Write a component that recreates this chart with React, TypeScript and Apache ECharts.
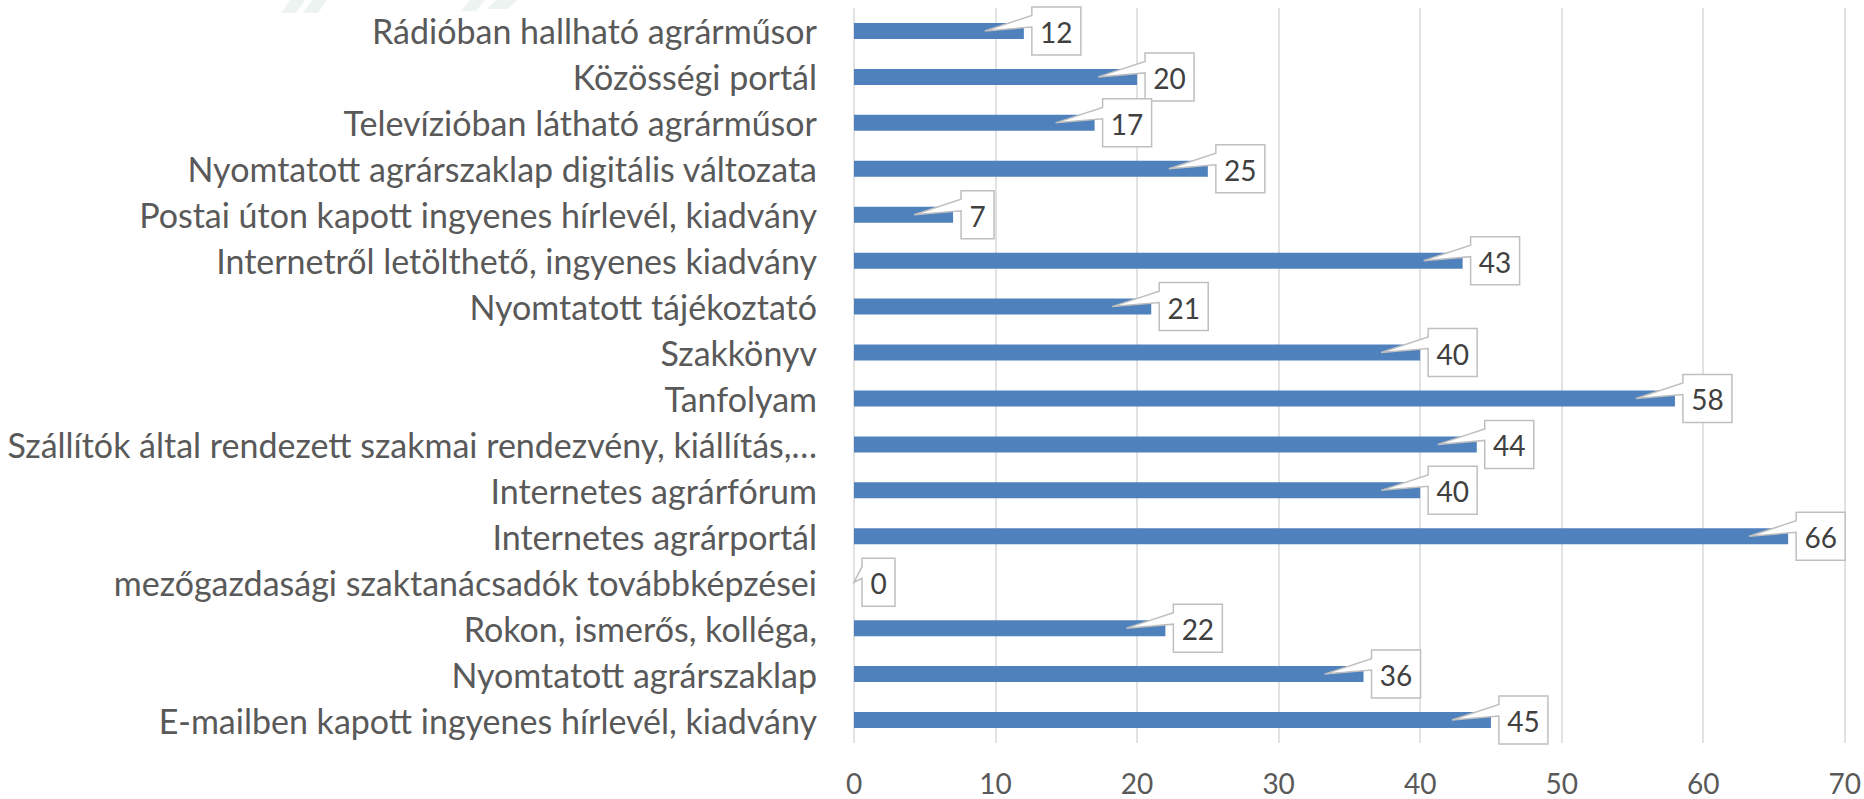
import React, { useEffect, useRef } from "react";
import * as echarts from "echarts";

const categories: string[] = [
  "Rádióban hallható agrárműsor",
  "Közösségi portál",
  "Televízióban látható agrárműsor",
  "Nyomtatott agrárszaklap digitális változata",
  "Postai úton kapott ingyenes hírlevél, kiadvány",
  "Internetről letölthető, ingyenes kiadvány",
  "Nyomtatott tájékoztató",
  "Szakkönyv",
  "Tanfolyam",
  "Szállítók által rendezett szakmai rendezvény, kiállítás,…",
  "Internetes agrárfórum",
  "Internetes agrárportál",
  "mezőgazdasági szaktanácsadók továbbképzései",
  "Rokon, ismerős, kolléga,",
  "Nyomtatott agrárszaklap",
  "E-mailben kapott ingyenes hírlevél, kiadvány",
];

const values: number[] = [12, 20, 17, 25, 7, 43, 21, 40, 58, 44, 40, 66, 0, 22, 36, 45];

const xTicks = { min: 0, max: 70, interval: 10 };

const FONT = "Lato, 'Open Sans', sans-serif";

export default function App() {
  const ref = useRef<HTMLDivElement>(null);
  useEffect(() => {
    if (!ref.current) return;
    const chart = echarts.init(ref.current, undefined, { renderer: "svg" });
    const option: any = {
      animation: false,
      backgroundColor: "#ffffff",
      textStyle: { fontFamily: FONT },
      graphic: [
        { type: "polygon", shape: { points: [[290, 0], [305, 0], [296, 13], [281, 13]] }, style: { fill: "#edf3f1" }, silent: true },
        { type: "polygon", shape: { points: [[312, 0], [327, 0], [318, 13], [303, 13]] }, style: { fill: "#edf3f1" }, silent: true },
        { type: "polygon", shape: { points: [[470, 0], [485, 0], [476, 11], [461, 11]] }, style: { fill: "#edf3f1" }, silent: true },
        { type: "polygon", shape: { points: [[496, 0], [517, 0], [508, 9], [487, 9]] }, style: { fill: "#edf3f1" }, silent: true },
      ],
      grid: { left: 854, right: 19, top: 8, bottom: 56, containLabel: false },
      xAxis: {
        type: "value",
        min: xTicks.min,
        max: xTicks.max,
        interval: xTicks.interval,
        axisLine: { show: false },
        axisTick: { show: false },
        axisLabel: { color: "#595959", fontSize: 28, margin: 25, lineHeight: 30, fontFamily: FONT },
        splitLine: { show: true, lineStyle: { color: "#d9d9d9", width: 1.5 } },
      },
      yAxis: {
        type: "category",
        inverse: true,
        data: categories,
        axisLine: { show: false },
        axisTick: { show: false },
        axisLabel: { color: "#595959", fontSize: 34, margin: 37, fontFamily: FONT },
        splitLine: { show: false },
      },
      series: [
        {
          type: "bar",
          data: values,
          barWidth: 16,
          itemStyle: { color: "#4f81bd" },
          silent: true,
        },
        {
          type: "custom",
          data: values.map((v, i) => [v, i]),
          encode: { x: 0, y: 1 },
          silent: true,
          clip: false,
          z: 5,
          renderItem: (params: any, api: any) => {
            const v = api.value(0) as number;
            const idx = api.value(1) as number;
            const end = api.coord([v, idx]);
            const zero = api.coord([0, idx]);
            const txt = String(v);
            const w = 17 + 16 * txt.length;
            const h = 48;
            const L = end[0] + 8;
            const T = end[1] - h / 2;
            const tipX = Math.max(end[0] - 39, zero[0]);
            const tipY = end[1];
            return {
              type: "group",
              children: [
                {
                  type: "polygon",
                  shape: {
                    points: [
                      [L, T],
                      [L + w, T],
                      [L + w, T + h],
                      [L, T + h],
                      [L, T + 20],
                      [tipX, tipY],
                      [L, T + 8.5],
                    ],
                  },
                  style: { fill: "#ffffff", stroke: "#bfbfbf", lineWidth: 1.5 },
                },
                {
                  type: "text",
                  style: {
                    x: L + w / 2,
                    y: T + h / 2 + 1,
                    text: txt,
                    fill: "#404040",
                    fontSize: 28,
                    fontFamily: FONT,
                    align: "center",
                    verticalAlign: "middle",
                  },
                },
              ],
            };
          },
        },
      ],
    };
    chart.setOption(option);
    return () => chart.dispose();
  }, []);
  return (
    <div
      ref={ref}
      style={{ position: "fixed", left: 0, top: 0, width: 1864, height: 799 }}
    />
  );
}
